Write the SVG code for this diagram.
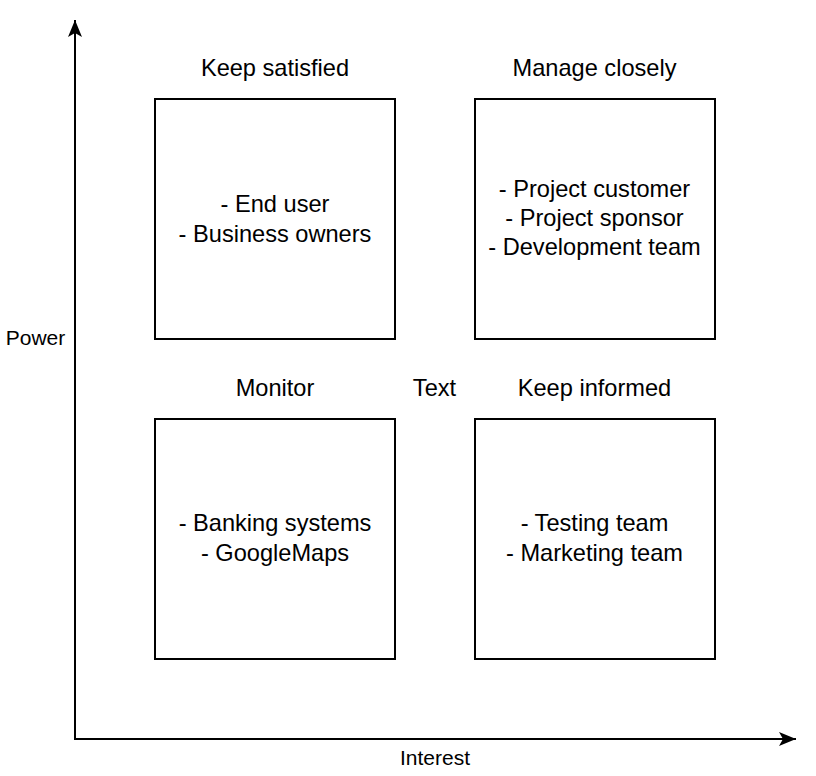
<svg xmlns="http://www.w3.org/2000/svg" width="816" height="776" viewBox="0 0 816 776">
<style>
.box{fill:#fff;stroke:#000;stroke-width:2}
.t{font-family:"Liberation Sans",Arial,Helvetica,sans-serif;font-size:23.6px;fill:#000;text-anchor:middle}
.s{font-family:"Liberation Sans",Arial,Helvetica,sans-serif;font-size:21px;fill:#000;text-anchor:middle}
.ax{stroke:#000;stroke-width:2;fill:none}
</style>
<defs>
<marker id="arr" markerWidth="18" markerHeight="16" viewBox="0 0 18 16" refX="17" refY="8" orient="auto" markerUnits="userSpaceOnUse">
<path d="M0,1 L17,8 L0,15 L4,8 Z" fill="#000"/>
</marker>
</defs>
<rect width="816" height="776" fill="#fff"/>
<g id="connectors">
<line class="ax" x1="75" y1="740" x2="75" y2="20" marker-end="url(#arr)"/>
<line class="ax" x1="74" y1="739" x2="796" y2="739" marker-end="url(#arr)"/>
</g>
<g id="keep-satisfied">
<rect class="box" x="155" y="99" width="240" height="240"/>
<text class="t" x="275" y="212">- End user</text>
<text class="t" x="275" y="242">- Business owners</text>
</g>
<g id="manage-closely">
<rect class="box" x="475" y="99" width="240" height="240"/>
<text class="t" x="594.5" y="197">- Project customer</text>
<text class="t" x="594.5" y="226">- Project sponsor</text>
<text class="t" x="594.5" y="255">- Development team</text>
</g>
<g id="monitor">
<rect class="box" x="155" y="419" width="240" height="240"/>
<text class="t" x="275" y="531">- Banking systems</text>
<text class="t" x="275" y="561">- GoogleMaps</text>
</g>
<g id="keep-informed">
<rect class="box" x="475" y="419" width="240" height="240"/>
<text class="t" x="594.5" y="531">- Testing team</text>
<text class="t" x="594.5" y="561">- Marketing team</text>
</g>
<g id="labels">
<text class="t" x="275" y="76">Keep satisfied</text>
<text class="t" x="594.5" y="76">Manage closely</text>
<text class="t" x="275" y="396">Monitor</text>
<text class="t" x="594.5" y="396">Keep informed</text>
<text class="t" x="434.5" y="396">Text</text>
<text class="s" x="35.5" y="345">Power</text>
<text class="s" x="435" y="765">Interest</text>
</g>
</svg>
